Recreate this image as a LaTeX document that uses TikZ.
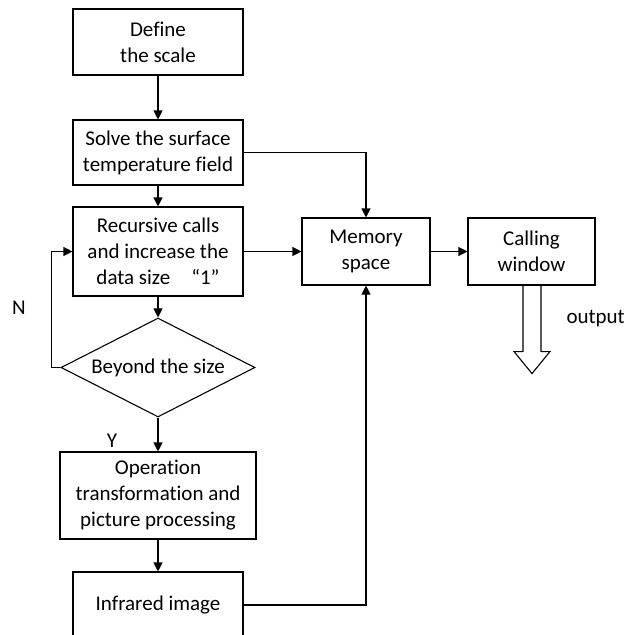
\documentclass[tikz,border=0pt]{standalone}
\usepackage{fontspec}
\setmainfont{Carlito}[RawFeature={-liga}]
\usetikzlibrary{shapes.geometric,arrows.meta,calc}
\begin{document}
\begin{tikzpicture}[x=1pt,y=-1pt,
  font=\fontsize{21}{26}\selectfont,
  line width=1.1pt,
  box/.style={draw,rectangle,inner sep=0pt,align=center},
  dec/.style={draw,diamond,inner sep=0pt,aspect=1.96,minimum width=194pt,minimum height=99pt},
  arr/.style={-{Triangle[length=9pt,width=9pt]}},
  lbl/.style={inner sep=0pt}]
\clip (0,0) rectangle (627,635);
\useasboundingbox (0,0) rectangle (627,635);
\node[box,minimum width=170pt,minimum height=66pt] (b1) at (158,42) {Define\\the scale};
\node[box,minimum width=170pt,minimum height=65pt] (b2) at (158,152.5) {Solve the surface\\temperature field};
\node[box,minimum width=170pt,minimum height=89pt] (b3) at (158,251.5) {Recursive calls\\and increase the\\data size\quad “1”};
\node[dec] (d) at (158,367.5) {Beyond the size};
\node[box,minimum width=196pt,minimum height=87pt] (b4) at (158,495.5) {Operation\\transformation and\\picture processing};
\node[box,minimum width=170pt,minimum height=66pt] (b5) at (158,605) {Infrared image};
\node[box,minimum width=128pt,minimum height=67pt] (mem) at (366,251.5) {Memory\\space};
\node[box,minimum width=127pt,minimum height=67pt] (cw) at (531.5,251.5) {Calling\\window};
\node[lbl] (n) at (19,308) {N};
\node[lbl] (y) at (112,441) {Y};
\node[lbl,anchor=west] (out) at (566,319) {output};
\draw[arr] (b1.south) -- (b2.north);
\draw[arr] (b2.south) -- (b3.north);
\draw[arr] (b3.south) -- (d.north);
\draw[arr] (d.south) -- (b4.north);
\draw[arr] (b4.south) -- (b5.north);
\draw[arr] (d.west) -- ++(-9,0) |- (b3.west);
\draw[arr] (b2.east) -| (mem.north);
\draw[arr] (b3.east) -- (mem.west);
\draw[arr] (b5.east) -| (mem.south);
\draw[arr] (mem.east) -- (cw.west);
\draw[line join=miter] ($(cw.south)+(-8.5,0)$) -- ++(0,66) -- ++(-9,0) -- ++(18,22) -- ++(18,-22) -- ++(-9,0) -- ++(0,-66);
\end{tikzpicture}
\end{document}
